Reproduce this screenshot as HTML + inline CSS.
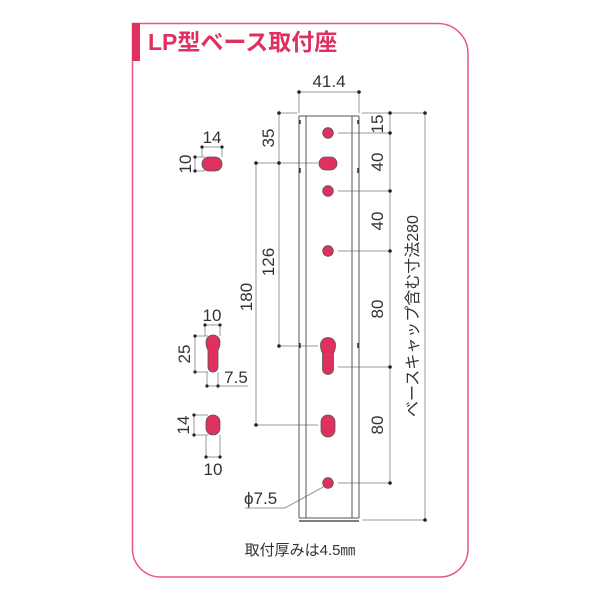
<!DOCTYPE html>
<html><head><meta charset="utf-8"><style>
html,body{margin:0;padding:0;background:#fff;}
text{font-family:"Liberation Sans","Noto Sans CJK JP",sans-serif;fill:#333;}
</style></head><body>
<svg width="600" height="600" viewBox="0 0 600 600" xmlns="http://www.w3.org/2000/svg">
<path d="M132.5 23.5 H438 A30 30 0 0 1 468 53.5 V549 A28 28 0 0 1 440 577 H160 A28 28 0 0 1 132.5 549 Z" fill="none" stroke="#e8568a" stroke-width="1.5"/>
<rect x="132" y="23" width="8" height="38" fill="#e0305f"/>
<text x="148" y="50" font-size="23" font-weight="bold" style="fill:#e0305f">LP型ベース取付座</text>

<g stroke="#999" stroke-width="1" fill="none">
<line x1="299" y1="92" x2="359" y2="92"/>
<line x1="299" y1="92" x2="299" y2="113"/><line x1="359" y1="92" x2="359" y2="113"/>
<line x1="279" y1="113" x2="297" y2="113"/><line x1="362" y1="113" x2="425" y2="113"/>
<line x1="279" y1="113" x2="279" y2="346"/>
<line x1="256" y1="163" x2="256" y2="425"/>
<line x1="256" y1="163" x2="318" y2="163"/>
<line x1="279" y1="346" x2="318" y2="346"/>
<line x1="256" y1="425" x2="318" y2="425"/>
<line x1="390" y1="113" x2="390" y2="483"/>
<line x1="425" y1="113" x2="425" y2="520"/>
<line x1="338" y1="133" x2="390" y2="133"/>
<line x1="338" y1="191" x2="390" y2="191"/>
<line x1="338" y1="251" x2="390" y2="251"/>
<line x1="338" y1="367" x2="390" y2="367"/>
<line x1="338" y1="483" x2="390" y2="483"/>
<line x1="362" y1="520" x2="425" y2="520"/>
<polyline points="325,486 285,508 245,508"/>
<line x1="202" y1="147" x2="222" y2="147"/><line x1="202" y1="147" x2="202" y2="157"/><line x1="222" y1="147" x2="222" y2="157"/>
<line x1="195" y1="157" x2="195" y2="171"/><line x1="195" y1="157" x2="205" y2="157"/><line x1="195" y1="171" x2="205" y2="171"/>
<line x1="205" y1="325" x2="220" y2="325"/><line x1="205" y1="325" x2="205" y2="336"/><line x1="220" y1="325" x2="220" y2="336"/>
<line x1="195" y1="336" x2="195" y2="372"/><line x1="195" y1="336" x2="208" y2="336"/><line x1="195" y1="372" x2="208" y2="372"/>
<line x1="207" y1="386" x2="248" y2="386"/><line x1="207" y1="372" x2="207" y2="386"/><line x1="218" y1="372" x2="218" y2="386"/>
<line x1="194" y1="415" x2="194" y2="435"/><line x1="194" y1="415" x2="208" y2="415"/><line x1="194" y1="435" x2="208" y2="435"/>
<line x1="206" y1="457" x2="220" y2="457"/><line x1="206" y1="435" x2="206" y2="457"/><line x1="220" y1="435" x2="220" y2="457"/>
</g>
<g fill="#222">
<circle cx="299" cy="92" r="1.8"/><circle cx="359" cy="92" r="1.8"/>
<circle cx="279" cy="113" r="1.8"/><circle cx="390" cy="113" r="1.8"/><circle cx="425" cy="113" r="1.8"/>
<circle cx="279" cy="163" r="1.8"/><circle cx="256" cy="163" r="1.8"/><circle cx="279" cy="346" r="1.8"/><circle cx="256" cy="425" r="1.8"/>
<circle cx="390" cy="133" r="1.8"/><circle cx="390" cy="191" r="1.8"/><circle cx="390" cy="251" r="1.8"/><circle cx="390" cy="367" r="1.8"/><circle cx="390" cy="483" r="1.8"/><circle cx="425" cy="520" r="1.8"/>
<circle cx="202" cy="147" r="1.6"/><circle cx="222" cy="147" r="1.6"/><circle cx="195" cy="157" r="1.6"/><circle cx="195" cy="171" r="1.6"/>
<circle cx="205" cy="325" r="1.6"/><circle cx="220" cy="325" r="1.6"/><circle cx="195" cy="336" r="1.6"/><circle cx="195" cy="372" r="1.6"/>
<circle cx="207" cy="386" r="1.6"/><circle cx="218" cy="386" r="1.6"/>
<circle cx="194" cy="415" r="1.6"/><circle cx="194" cy="435" r="1.6"/><circle cx="206" cy="457" r="1.6"/><circle cx="220" cy="457" r="1.6"/>
</g>
<g stroke="#555" stroke-width="1" fill="none">
<line x1="299" y1="116" x2="299" y2="518"/><line x1="359" y1="116" x2="359" y2="518"/>
<line x1="306" y1="116" x2="306" y2="518"/><line x1="352" y1="116" x2="352" y2="518"/>
<line x1="299" y1="518" x2="359" y2="518"/>
<line x1="299" y1="116" x2="359" y2="116"/>
<line x1="299" y1="521" x2="359" y2="521" stroke-width="1.5"/>
</g>
<g stroke="#333" stroke-width="1.5">
<line x1="300" y1="120" x2="300" y2="124"/><line x1="358" y1="120" x2="358" y2="124"/>
<line x1="300" y1="168" x2="300" y2="173"/><line x1="358" y1="168" x2="358" y2="173"/>
<line x1="300" y1="343" x2="300" y2="348"/><line x1="358" y1="343" x2="358" y2="348"/>
</g>
<g fill="#e0305f" stroke="#555" stroke-width="0.8">
<circle cx="328" cy="133" r="5.3"/>
<rect x="319" y="157" width="18" height="13" rx="6.5"/>
<circle cx="328" cy="191" r="5.3"/>
<circle cx="328" cy="251" r="5.3"/>
<path d="M320.5 345 A7.5 7.5 0 0 1 335.5 345 Q335.5 350 333.5 353 V369 A5.5 5.5 0 0 1 322.5 369 V353 Q320.5 350 320.5 345 Z"/>
<rect x="321" y="415" width="14" height="22" rx="7"/>
<circle cx="328" cy="483" r="5.3"/>
<rect x="202" y="157" width="20" height="14" rx="7"/>
<path d="M206 342 A7 7 0 0 1 220 342 Q220 347 218 350 V367 A5 5 0 0 1 208 367 V350 Q206 347 206 342 Z"/>
<rect x="206" y="415" width="14" height="20" rx="7"/>
</g>
<g font-size="17">
<text x="329" y="87" text-anchor="middle">41.4</text>
<text x="300" y="555" text-anchor="middle" font-size="15">取付厚みは4.5㎜</text>
<text x="244" y="504" text-anchor="start">ϕ7.5</text>
<text x="212" y="143" text-anchor="middle">14</text>
<text x="212" y="321" text-anchor="middle">10</text>
<text x="236" y="383" text-anchor="middle">7.5</text>
<text x="213" y="475" text-anchor="middle">10</text>
</g>
<g font-size="17" text-anchor="middle">
<text transform="translate(191,164) rotate(-90)">10</text>
<text transform="translate(190,354) rotate(-90)">25</text>
<text transform="translate(189,425) rotate(-90)">14</text>
<text transform="translate(274,138) rotate(-90)">35</text>
<text transform="translate(274,262) rotate(-90)">126</text>
<text transform="translate(252,297) rotate(-90)">180</text>
<text transform="translate(383,124) rotate(-90)">15</text>
<text transform="translate(383,162) rotate(-90)">40</text>
<text transform="translate(383,221) rotate(-90)">40</text>
<text transform="translate(383,309) rotate(-90)">80</text>
<text transform="translate(383,425) rotate(-90)">80</text>
<text transform="translate(418,316) rotate(-90)" font-size="16">ベースキャップ含む寸法280</text>
</g>
</svg>
</body></html>
